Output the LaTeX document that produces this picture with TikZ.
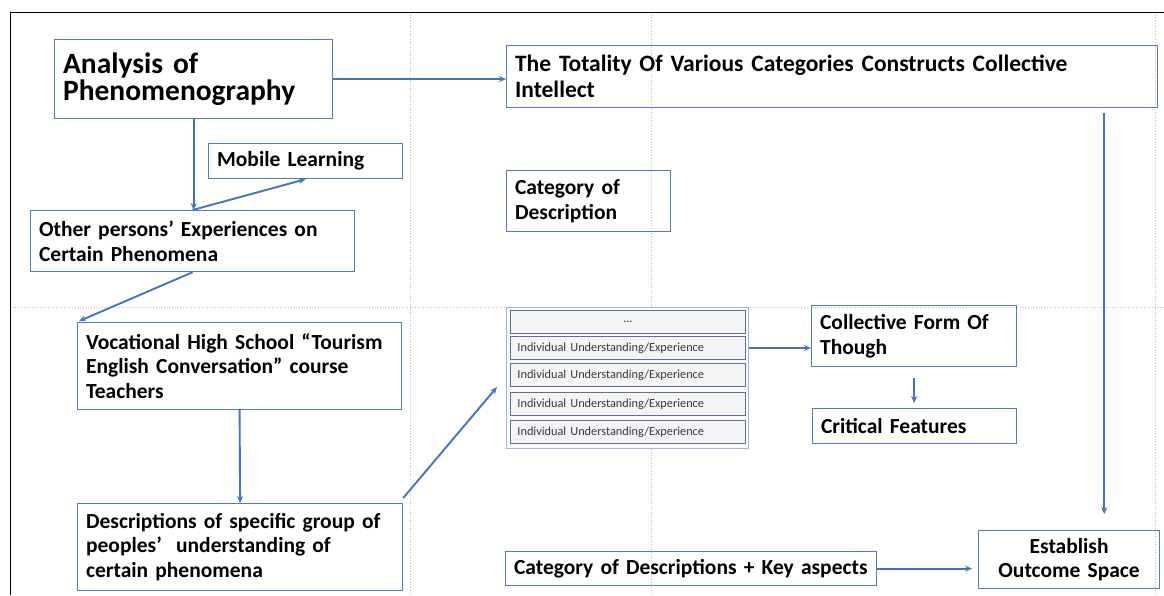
\documentclass[tikz,border=0pt]{standalone}
\usepackage{fontspec}
\setmainfont{Carlito}
\usetikzlibrary{arrows.meta,calc}
\definecolor{bx}{HTML}{5578C0}
\definecolor{ar}{HTML}{4472C4}
\definecolor{rowb}{HTML}{5C6F98}
\definecolor{stk}{HTML}{A8B6D4}
\begin{document}
\begin{tikzpicture}[x=1pt,y=-1pt,
  box/.style={draw=bx, line width=1.2pt, anchor=north west, inner xsep=8.5pt, inner ysep=1pt,
    align=left, text=black, font=\bfseries\fontsize{21.5}{24.5}\selectfont},
  rowbox/.style={draw=rowb, line width=0.9pt, fill=gray!9, anchor=north west, inner xsep=7pt, inner ysep=0pt,
    minimum width=235pt, minimum height=23pt, text width=221pt, align=left, text=black!78,
    font=\fontsize{12.3}{13}\selectfont},
  arr/.style={draw=ar, line width=1.9pt, -{Stealth[length=7pt,width=6pt]}},
  gridline/.style={draw=gray!50, line width=0.7pt, dotted}]
\useasboundingbox (0,0) rectangle (1164,595);

% grid
\draw[gridline] (410,12) -- (410,595);
\draw[gridline] (651,12) -- (651,595);
\draw[gridline] (1155,12) -- (1155,595);
\draw[gridline] (10,307) -- (1164,307);
% frame
\draw[black, line width=1pt] (10,595) -- (10,12) -- (1164,12);

% left column
\node[box, minimum width=278pt, minimum height=79pt, text width=261pt,
  font=\bfseries\fontsize{29.5}{27.5}\selectfont] (ana) at (54,39) {Analysis of\\Phenomenography};
\node[box, minimum width=194pt, minimum height=35pt, text width=177pt] (mob) at (208,143) {Mobile Learning};
\node[box, minimum width=324pt, minimum height=61pt, text width=307pt] (oth) at (30,210)
  {Other persons’ Experiences on\\Certain Phenomena};
\node[box, minimum width=324pt, minimum height=87pt, text width=307pt] (voc) at (77,322)
  {Vocational High School “Tourism\\English Conversation” course\\Teachers};
\node[box, minimum width=325pt, minimum height=87pt, text width=308pt] (desc) at (77,503)
  {Descriptions of specific group of\\peoples’\ \ understanding of\\certain phenomena};

% right part
\node[box, minimum width=651pt, minimum height=62pt, text width=634pt,
  font=\bfseries\fontsize{23.5}{26}\selectfont] (tot) at (506,45)
  {The Totality Of Various Categories Constructs Collective\\Intellect};
\node[box, minimum width=164pt, minimum height=61pt, text width=147pt] (cat) at (506,170)
  {Category of\\Description};

% stack
\node[draw=stk, line width=1.2pt, fill=gray!4, anchor=north west, minimum width=242pt, minimum height=141pt, inner sep=0pt] (stack) at (506,307) {};
\node[rowbox, align=center] (r0) at (510,310) {...};
\node[rowbox] (r1) at (510,336) {Individual Understanding/Experience};
\node[rowbox] (r2) at (510,363) {Individual Understanding/Experience};
\node[rowbox] (r3) at (510,392) {Individual Understanding/Experience};
\node[rowbox] (r4) at (510,420) {Individual Understanding/Experience};

\node[box, minimum width=205pt, minimum height=61pt, text width=188pt] (col) at (811,305)
  {Collective Form Of\\Though};
\node[box, minimum width=204pt, minimum height=35pt, text width=187pt] (crit) at (812,408)
  {Critical Features};
\node[box, minimum width=371pt, minimum height=34pt, text width=354pt] (key) at (505,551)
  {Category of Descriptions + Key aspects};
\node[box, minimum width=181pt, minimum height=58pt, text width=164pt, align=center] (est) at (978,530)
  {Establish\\Outcome Space};

% connectors
\coordinate (stackin) at (497,387);
\draw[arr] (ana.east) -- (ana.east -| tot.west);
\draw[arr] (ana.south) -- (ana.south |- oth.north);
\draw[arr] (oth.north) -- (mob.south);
\draw[arr, shorten >=2pt] (oth.south) -- (voc.north west);
\draw[arr] (voc.south) -- (desc.north);
\draw[arr] ($(desc.north east)+(0,-5)$) -- (stackin);
\draw[arr] (stack.east |- r1.east) -- (r1.east -| col.west);
\draw[arr, shorten <=11pt, shorten >=5pt] (col.south) -- (col.south |- crit.north);
\coordinate (tdown) at ($(tot.south east)+(-54,5)$);
\draw[arr, shorten >=16pt] (tdown) -- (tdown |- est.north);
\draw[arr, shorten >=6pt] (key.east) -- (key.east -| est.west);
\end{tikzpicture}
\end{document}
